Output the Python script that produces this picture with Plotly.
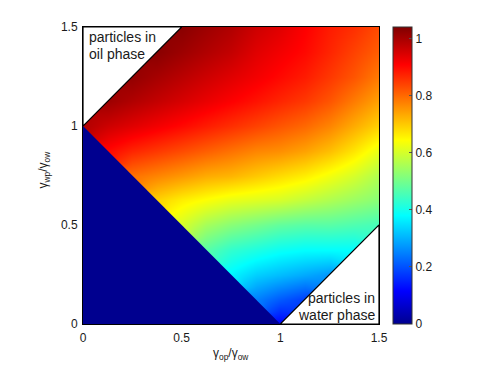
import plotly.graph_objects as go

# grid of the map: gamma_op/gamma_ow along x, gamma_wp/gamma_ow along y
ratio_op = [0, 0.125, 0.25, 0.375, 0.5, 0.625, 0.75, 0.875, 1.0, 1.125, 1.25, 1.375, 1.5]
ratio_wp = [0, 0.125, 0.25, 0.375, 0.5, 0.625, 0.75, 0.875, 1.0, 1.125, 1.25, 1.375, 1.5]

N = None
# values, one row per ratio_wp (bottom to top); None = outside the band
value_rows = [
    [N, N, N, N, N, N, N, N, 0.115, N, N, N, N],
    [N, N, N, N, N, N, N, 0.25, 0.21, 0.18, N, N, N],
    [N, N, N, N, N, N, 0.37, 0.33, 0.31, 0.29, 0.27, N, N],
    [N, N, N, N, N, 0.47, 0.43, 0.41, 0.39, 0.38, 0.38, 0.38, N],
    [N, N, N, N, 0.60, 0.55, 0.52, 0.50, 0.48, 0.47, 0.47, 0.46, 0.45],
    [N, N, N, 0.69, 0.66, 0.64, 0.62, 0.61, 0.60, 0.58, 0.56, 0.54, 0.52],
    [N, N, 0.79, 0.77, 0.75, 0.73, 0.72, 0.70, 0.68, 0.66, 0.63, 0.60, 0.56],
    [N, 0.90, 0.87, 0.85, 0.83, 0.81, 0.79, 0.77, 0.76, 0.74, 0.71, 0.67, 0.62],
    [0.99, 0.96, 0.94, 0.92, 0.90, 0.88, 0.86, 0.84, 0.82, 0.80, 0.77, 0.73, 0.69],
    [N, 1.01, 0.99, 0.97, 0.95, 0.93, 0.91, 0.89, 0.87, 0.85, 0.82, 0.78, 0.74],
    [N, N, 1.02, 1.00, 0.98, 0.96, 0.94, 0.92, 0.90, 0.88, 0.85, 0.82, 0.78],
    [N, N, N, 1.03, 1.01, 0.99, 0.97, 0.94, 0.92, 0.90, 0.87, 0.84, 0.81],
    [N, N, N, N, 1.03, 1.01, 0.99, 0.96, 0.94, 0.91, 0.88, 0.86, 0.83],
]

# regions outside the band
spread_x = [0, 1, 0, 0]
spread_y = [0, 0, 1, 0]
oil_x = [0, 0, 0.5, 0]
oil_y = [1, 1.5, 1.5, 1]
water_x = [1, 1.5, 1.5, 1]
water_y = [0, 0, 0.5, 0]

axis_ticks = [0, 0.5, 1, 1.5]
axis_labels = ["0", "0.5", "1", "1.5"]
cbar_ticks = [0, 0.2, 0.4, 0.6, 0.8, 1]
cbar_labels = ["0", "0.2", "0.4", "0.6", "0.8", "1"]

# matlab jet(64)
JET = [
    [0.0, "rgb(0,0,143)"],
    [7 / 63, "rgb(0,0,255)"],
    [23 / 63, "rgb(0,255,255)"],
    [39 / 63, "rgb(255,255,0)"],
    [55 / 63, "rgb(255,0,0)"],
    [1.0, "rgb(128,0,0)"],
]
TEXT = "#1a1a1a"
FONT = "Arial, Liberation Sans, sans-serif"

fig = go.Figure()
fig.add_trace(
    go.Heatmap(
        x=ratio_op,
        y=ratio_wp,
        z=value_rows,
        zsmooth="best",
        zmin=0,
        zmax=1.04,
        colorscale=JET,
        hoverongaps=False,
        colorbar=dict(
            x=1.047, xanchor="left", xpad=0,
            y=0.5, yanchor="middle", ypad=0, len=1.0,
            thickness=19, thicknessmode="pixels",
            outlinewidth=1, outlinecolor="#333333",
            tickvals=cbar_ticks, ticktext=cbar_labels,
            ticks="inside", ticklen=3, tickcolor="#555555",
            tickfont=dict(size=12, color=TEXT),
        ),
    )
)
fig.add_trace(go.Scatter(x=spread_x, y=spread_y, mode="lines", fill="toself",
                         fillcolor="#00008F", line=dict(width=0, color="#00008F"),
                         hoverinfo="skip", showlegend=False))
for xs, ys in ((oil_x, oil_y), (water_x, water_y)):
    fig.add_trace(go.Scatter(x=xs, y=ys, mode="lines", fill="toself", fillcolor="white",
                             line=dict(width=1.2, color="black"),
                             hoverinfo="skip", showlegend=False))

for text, x, y, anchor in (
    ("particles in", 0.022, 1.449, "left"),
    ("oil phase", 0.022, 1.364, "left"),
    ("particles in", 1.49, 0.129, "right"),
    ("water phase", 1.49, 0.043, "right"),
):
    fig.add_annotation(x=x, y=y, xref="x", yref="y", text=text, showarrow=False,
                       xanchor=anchor, yanchor="middle", font=dict(size=14, color=TEXT))

fig.add_annotation(x=0.5, y=-0.1, xref="paper", yref="paper", showarrow=False,
                   text="γ<sub>op</sub>/γ<sub>ow</sub>", font=dict(size=12, color=TEXT),
                   xanchor="center", yanchor="middle")
fig.add_annotation(x=-0.132, y=0.52, xref="paper", yref="paper", showarrow=False, textangle=-90,
                   text="γ<sub>wp</sub>/γ<sub>ow</sub>", font=dict(size=12, color=TEXT),
                   xanchor="center", yanchor="middle")

axis_style = dict(
    range=[0, 1.5], tickvals=axis_ticks, ticktext=axis_labels,
    showline=True, mirror=True, linecolor="black", linewidth=1,
    showgrid=False, zeroline=False, ticks="", tickfont=dict(size=12, color=TEXT),
)
fig.update_xaxes(**axis_style, ticklabelstandoff=3)
fig.update_yaxes(**axis_style, ticklabelstandoff=2)
# page body adds an 8px offset, so the figure is 8px smaller than the window
fig.update_layout(
    width=483,
    height=360,
    margin=dict(l=75, r=112, t=19, b=44),
    paper_bgcolor="white",
    plot_bgcolor="white",
    font=dict(family=FONT, color=TEXT),
    showlegend=False,
)

fig.write_html("out.html")
